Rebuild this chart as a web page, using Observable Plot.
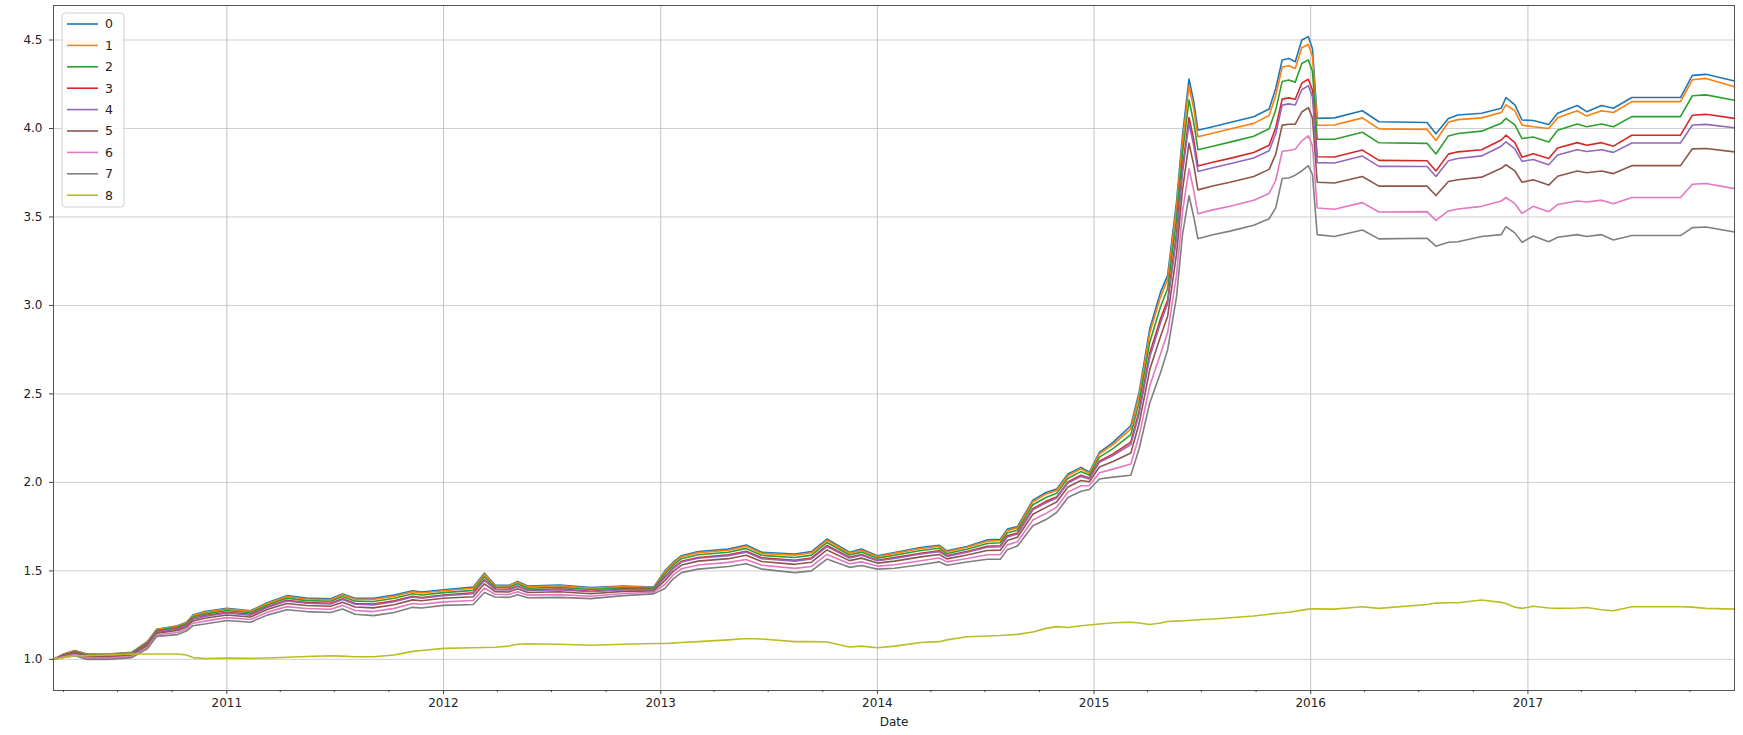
<!DOCTYPE html>
<html>
<head>
<meta charset="utf-8">
<script src="https://cdn.jsdelivr.net/npm/d3@7"></script>
<script src="https://cdn.jsdelivr.net/npm/@observablehq/plot@0.6"></script>
<style>
  html, body { margin: 0; padding: 0; background: #fff; }
  #chart svg { display: block; }
</style>
</head>
<body>
<div id="chart"></div>
<script>
const dates = ["2010-03-15","2010-04-01","2010-04-20","2010-05-10","2010-06-15","2010-07-25","2010-08-20","2010-09-05","2010-10-10","2010-10-25","2010-11-05","2010-11-25",
"2011-01-01","2011-02-10","2011-03-10","2011-04-12","2011-05-15","2011-06-25","2011-07-15","2011-08-05","2011-09-05","2011-10-10","2011-11-10","2011-11-25",
"2012-01-01","2012-02-20","2012-03-10","2012-03-28","2012-04-20","2012-05-05","2012-05-22","2012-07-15","2012-09-05","2012-10-30","2012-12-20",
"2013-01-08","2013-01-22","2013-02-05","2013-03-05","2013-04-25","2013-05-25","2013-06-20","2013-08-15","2013-09-12","2013-10-08","2013-11-15","2013-12-05",
"2014-01-01","2014-01-30","2014-03-15","2014-04-15","2014-04-28","2014-06-01","2014-07-05","2014-07-27","2014-08-08","2014-08-25","2014-09-20","2014-10-12","2014-10-30","2014-11-18","2014-12-10","2014-12-24",
"2015-01-10","2015-02-02","2015-03-04","2015-03-18","2015-04-05","2015-04-23","2015-05-05","2015-05-20","2015-05-30","2015-06-10","2015-06-18","2015-06-25","2015-07-20","2015-08-18","2015-09-27","2015-10-23","2015-11-03","2015-11-14","2015-11-25","2015-12-06","2015-12-17","2015-12-28",
"2016-01-04","2016-01-12","2016-02-10","2016-03-28","2016-04-25","2016-07-15","2016-07-30","2016-08-20","2016-09-05","2016-10-15","2016-11-17","2016-11-25","2016-12-10","2016-12-22",
"2017-01-10","2017-02-05","2017-02-20","2017-03-25","2017-04-10","2017-05-05","2017-05-25","2017-06-25","2017-09-15","2017-10-05","2017-10-28","2017-12-15"];

const s0 = [1.00,1.03,1.05,1.03,1.03,1.04,1.10,1.17,1.19,1.21,1.25,1.27,
1.288,1.275,1.32,1.36,1.346,1.342,1.37,1.345,1.345,1.363,1.388,1.38,
1.393,1.408,1.487,1.42,1.418,1.44,1.414,1.42,1.406,1.414,1.408,
1.50,1.549,1.586,1.609,1.623,1.646,1.605,1.595,1.609,1.68,1.605,1.623,
1.585,1.604,1.632,1.645,1.613,1.638,1.675,1.679,1.736,1.75,1.90,1.943,1.962,2.047,2.085,2.057,
2.17,2.226,2.32,2.51,2.87,3.075,3.17,3.585,3.96,4.28,4.15,3.99,4.01,4.034,4.066,4.11,4.226,4.387,4.396,4.377,4.50,4.519,
4.45,4.057,4.06,4.10,4.038,4.034,3.97,4.057,4.076,4.086,4.114,4.175,4.133,4.048,
4.045,4.023,4.086,4.13,4.095,4.13,4.114,4.175,4.175,4.30,4.306,4.268];

const s1 = [1.00,1.029,1.048,1.028,1.028,1.038,1.098,1.168,1.187,1.207,1.246,1.266,
1.284,1.271,1.316,1.355,1.341,1.337,1.365,1.340,1.339,1.357,1.382,1.375,
1.388,1.402,1.480,1.416,1.414,1.436,1.410,1.416,1.402,1.411,1.406,
1.494,1.543,1.580,1.603,1.617,1.640,1.599,1.589,1.602,1.673,1.600,1.617,
1.581,1.599,1.626,1.639,1.608,1.633,1.668,1.672,1.729,1.743,1.891,1.934,1.954,2.039,2.077,2.051,
2.161,2.214,2.303,2.491,2.845,3.048,3.145,3.553,3.926,4.240,4.111,3.953,3.973,3.997,4.029,4.073,4.185,4.347,4.355,4.339,4.456,4.475,
4.407,4.018,4.020,4.060,3.998,3.995,3.932,4.035,4.050,4.060,4.090,4.133,4.100,4.019,
4.010,4.000,4.060,4.100,4.070,4.100,4.090,4.152,4.152,4.275,4.283,4.236];

const s2 = [1.00,1.026,1.045,1.025,1.025,1.035,1.093,1.163,1.181,1.201,1.239,1.257,
1.276,1.263,1.307,1.346,1.332,1.328,1.355,1.329,1.327,1.345,1.371,1.364,
1.377,1.390,1.467,1.408,1.406,1.427,1.402,1.407,1.395,1.404,1.401,
1.482,1.532,1.569,1.591,1.605,1.627,1.588,1.576,1.589,1.660,1.590,1.606,
1.572,1.588,1.615,1.628,1.598,1.622,1.655,1.659,1.715,1.730,1.874,1.915,1.938,2.023,2.061,2.040,
2.143,2.191,2.270,2.452,2.794,2.993,3.094,3.489,3.859,4.161,4.033,3.880,3.900,3.923,3.956,3.998,4.104,4.266,4.274,4.262,4.367,4.388,
4.322,3.939,3.939,3.979,3.919,3.916,3.856,3.958,3.972,3.985,4.030,4.057,4.020,3.943,
3.952,3.924,3.990,4.025,4.010,4.025,4.010,4.067,4.067,4.185,4.190,4.160];

const s3 = [1.00,1.023,1.040,1.020,1.020,1.030,1.087,1.157,1.174,1.194,1.230,1.247,
1.266,1.254,1.297,1.334,1.321,1.317,1.342,1.315,1.313,1.331,1.357,1.350,
1.364,1.376,1.451,1.398,1.396,1.415,1.392,1.397,1.385,1.396,1.395,
1.467,1.518,1.554,1.576,1.591,1.611,1.574,1.560,1.573,1.643,1.577,1.592,
1.560,1.575,1.600,1.614,1.586,1.609,1.639,1.642,1.698,1.714,1.852,1.893,1.918,2.003,2.040,2.025,
2.120,2.161,2.228,2.404,2.731,2.925,3.031,3.408,3.775,4.062,3.936,3.788,3.809,3.831,3.864,3.905,4.003,4.166,4.173,4.165,4.256,4.278,
4.216,3.840,3.839,3.878,3.820,3.818,3.760,3.855,3.868,3.880,3.935,3.962,3.920,3.838,
3.857,3.830,3.890,3.920,3.905,3.920,3.900,3.962,3.962,4.075,4.080,4.057];

const s4 = [1.00,1.022,1.039,1.019,1.019,1.029,1.085,1.155,1.171,1.191,1.227,1.243,
1.262,1.250,1.293,1.330,1.317,1.313,1.338,1.311,1.308,1.326,1.352,1.346,
1.360,1.371,1.446,1.394,1.392,1.412,1.389,1.393,1.382,1.393,1.394,
1.462,1.513,1.550,1.571,1.586,1.606,1.569,1.555,1.568,1.637,1.573,1.588,
1.557,1.570,1.595,1.609,1.582,1.605,1.634,1.636,1.692,1.708,1.845,1.885,1.912,1.997,2.034,2.020,
2.113,2.152,2.214,2.388,2.710,2.902,3.010,3.382,3.747,4.029,3.903,3.757,3.778,3.801,3.833,3.874,3.969,4.132,4.139,4.133,4.219,4.242,
4.180,3.807,3.805,3.844,3.786,3.785,3.729,3.818,3.830,3.845,3.900,3.924,3.885,3.814,
3.825,3.795,3.850,3.880,3.870,3.880,3.865,3.918,3.918,4.020,4.023,4.004];

const s5 = [1.00,1.019,1.034,1.014,1.014,1.024,1.078,1.148,1.163,1.183,1.217,1.232,
1.251,1.239,1.282,1.316,1.304,1.300,1.323,1.296,1.291,1.309,1.336,1.331,
1.345,1.354,1.427,1.383,1.381,1.399,1.378,1.382,1.371,1.384,1.387,
1.445,1.497,1.533,1.555,1.569,1.588,1.553,1.537,1.549,1.618,1.558,1.572,
1.544,1.555,1.579,1.593,1.568,1.590,1.615,1.617,1.672,1.690,1.820,1.859,1.889,1.974,2.011,2.004,
2.087,2.118,2.166,2.334,2.639,2.825,2.939,3.291,3.652,3.917,3.793,3.653,3.675,3.696,3.729,3.769,3.854,4.019,4.024,4.024,4.093,4.118,
4.060,3.696,3.692,3.729,3.674,3.674,3.621,3.700,3.710,3.725,3.775,3.795,3.760,3.696,
3.710,3.680,3.730,3.760,3.750,3.760,3.745,3.790,3.790,3.885,3.887,3.868];

const s6 = [1.00,1.015,1.027,1.007,1.007,1.017,1.069,1.139,1.152,1.172,1.204,1.216,
1.236,1.225,1.266,1.298,1.287,1.283,1.305,1.276,1.270,1.288,1.316,1.311,
1.325,1.333,1.403,1.368,1.366,1.382,1.363,1.366,1.357,1.372,1.379,
1.423,1.477,1.512,1.533,1.548,1.564,1.532,1.514,1.525,1.593,1.540,1.551,
1.527,1.535,1.557,1.573,1.551,1.570,1.591,1.592,1.647,1.665,1.788,1.825,1.860,1.945,1.981,1.982,
2.054,2.075,2.104,2.264,2.547,2.725,2.847,3.173,3.529,3.772,3.650,3.518,3.540,3.561,3.594,3.633,3.706,3.871,3.876,3.883,3.930,3.958,
3.903,3.551,3.544,3.581,3.528,3.530,3.481,3.534,3.545,3.560,3.590,3.610,3.575,3.520,
3.560,3.530,3.570,3.590,3.585,3.595,3.575,3.610,3.610,3.685,3.689,3.660];

const s7 = [1.00,1.01,1.02,1.00,1.00,1.01,1.06,1.13,1.14,1.16,1.19,1.20,
1.22,1.21,1.25,1.28,1.27,1.265,1.285,1.255,1.247,1.265,1.294,1.29,
1.305,1.31,1.378,1.352,1.35,1.365,1.348,1.35,1.343,1.36,1.37,
1.40,1.455,1.49,1.51,1.525,1.54,1.51,1.49,1.50,1.567,1.52,1.53,
1.51,1.515,1.535,1.551,1.532,1.55,1.566,1.566,1.62,1.64,1.755,1.79,1.83,1.915,1.95,1.96,
2.019,2.03,2.04,2.19,2.45,2.62,2.75,3.05,3.40,3.62,3.50,3.377,3.40,3.42,3.453,3.49,3.55,3.717,3.72,3.736,3.76,3.79,
3.74,3.40,3.39,3.426,3.376,3.38,3.335,3.357,3.36,3.39,3.40,3.445,3.41,3.357,
3.392,3.36,3.385,3.40,3.39,3.40,3.37,3.395,3.395,3.44,3.443,3.415];

const s8 = [1.00,1.01,1.02,1.02,1.025,1.03,1.03,1.03,1.03,1.025,1.01,1.005,
1.008,1.006,1.008,1.012,1.016,1.02,1.018,1.015,1.015,1.025,1.045,1.05,
1.062,1.066,1.067,1.068,1.075,1.085,1.088,1.085,1.08,1.085,1.09,
1.09,1.092,1.095,1.10,1.11,1.118,1.115,1.10,1.10,1.098,1.07,1.075,
1.066,1.075,1.095,1.10,1.11,1.128,1.132,1.135,1.138,1.141,1.155,1.175,1.185,1.18,1.19,1.194,
1.20,1.207,1.21,1.205,1.197,1.205,1.214,1.216,1.218,1.22,1.222,1.224,1.228,1.235,1.245,1.255,1.26,1.262,1.266,1.272,1.278,1.284,
1.285,1.285,1.284,1.297,1.288,1.31,1.318,1.32,1.32,1.335,1.322,1.316,1.295,1.288,
1.30,1.29,1.288,1.29,1.293,1.28,1.275,1.297,1.297,1.295,1.288,1.284];

const seriesNames = ["0","1","2","3","4","5","6","7","8"];
const seriesValues = [s0, s1, s2, s3, s4, s5, s6, s7, s8];
const colors = ["#1f77b4","#ff7f0e","#2ca02c","#d62728","#9467bd","#8c564b","#e377c2","#7f7f7f","#bcbd22"];
const yTicks = [1.0, 1.5, 2.0, 2.5, 3.0, 3.5, 4.0, 4.5];
const xTickYears = [2011, 2012, 2013, 2014, 2015, 2016, 2017];

const rows = [];
seriesValues.forEach((vals, k) => {
  vals.forEach((v, i) => rows.push({date: new Date(dates[i] + "T00:00:00Z"), value: v, series: seriesNames[k]}));
});

const xTicks = xTickYears.map(y => new Date(Date.UTC(y, 0, 1)));
const minorTicks = [];
for (let y = 2010; y <= 2017; y++) {
  for (const m of [3, 6, 9]) minorTicks.push(new Date(Date.UTC(y, m, 1)));
}
const xDomain = [new Date(dates[0] + "T00:00:00Z"), new Date(dates[dates.length - 1] + "T00:00:00Z")];

const chart = Plot.plot({
  width: 1743,
  height: 735,
  marginLeft: 53,
  marginRight: 9,
  marginTop: 5,
  marginBottom: 45,
  x: {type: "utc", domain: xDomain},
  y: {domain: [0.824, 4.695]},
  color: {domain: seriesNames, range: colors},
  style: {fontFamily: "'DejaVu Sans', sans-serif", fontSize: "12px", color: "#222", background: "#fff"},
  marks: [
    Plot.gridY(yTicks, {stroke: "#cfcfcf", strokeOpacity: 1, strokeWidth: 1}),
    Plot.gridX(xTicks, {stroke: "#c4c4c4", strokeOpacity: 1, strokeWidth: 1}),
    Plot.line(rows, {x: "date", y: "value", z: "series", stroke: "series", strokeWidth: 1.6, curve: "linear"}),
    Plot.frame({stroke: "#555", strokeWidth: 1}),
    Plot.axisY(yTicks, {tickSize: 4, tickPadding: 7, tickFormat: d => d.toFixed(1), label: null, stroke: "#444"}),
    Plot.axisX(xTicks, {tickSize: 4, tickPadding: 4, tickFormat: d3.utcFormat("%Y"), label: null, stroke: "#444"}),
    Plot.axisX(minorTicks, {tickSize: 2, tickFormat: () => "", label: null, stroke: "#444"}),
    Plot.text(["Date"], {frameAnchor: "bottom", dy: 35, fontSize: 12, fill: "#222"})
  ]
});
document.getElementById("chart").appendChild(chart);

// legend (matplotlib-style, upper left inside the axes)
const svg = d3.select(chart);
const lg = svg.append("g").attr("font-family", "'DejaVu Sans', sans-serif").attr("font-size", 12.5);
lg.append("rect").attr("x", 62).attr("y", 13).attr("width", 62).attr("height", 194)
  .attr("rx", 3).attr("fill", "#fff").attr("fill-opacity", 0.85).attr("stroke", "#d0d0d0");
seriesNames.forEach((name, i) => {
  const yy = 24 + i * 21.4;
  lg.append("line").attr("x1", 67).attr("x2", 98).attr("y1", yy).attr("y2", yy)
    .attr("stroke", colors[i]).attr("stroke-width", 1.6);
  lg.append("text").attr("x", 109).attr("y", yy).attr("dy", "0.35em").attr("fill", "#222").text(name);
});
</script>
</body>
</html>
